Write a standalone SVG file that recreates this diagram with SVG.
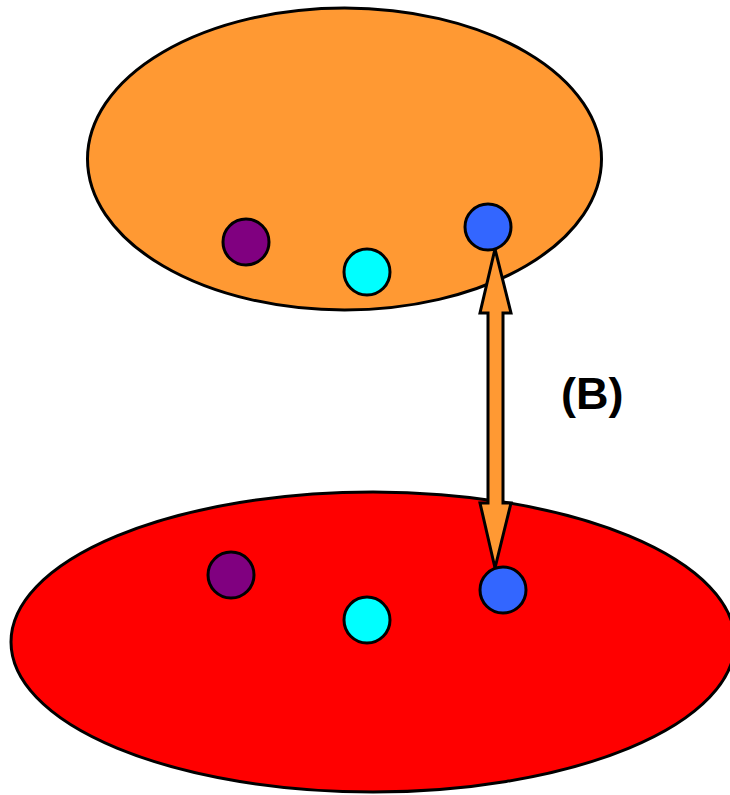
<svg xmlns="http://www.w3.org/2000/svg" width="730" height="795" viewBox="0 0 730 795">
<style>
.o{stroke:#000;stroke-width:3}
.dot{stroke:#000;stroke-width:3}
.lbl{font-family:"Liberation Sans",Arial,sans-serif;font-weight:bold;font-size:45px;fill:#000}
</style>
<rect width="730" height="795" fill="#fff"/>
<g id="top-set">
<ellipse cx="344.5" cy="159" rx="257" ry="151" fill="#ff9933" class="o"/>
</g>
<g id="bottom-set">
<ellipse cx="373" cy="642" rx="362" ry="150" fill="#ff0000" class="o"/>
</g>
<g id="top-purple"><circle cx="246" cy="242" r="23" fill="#800080" class="dot"/></g>
<g id="top-cyan"><circle cx="367" cy="272" r="23" fill="#00ffff" class="dot"/></g>
<g id="top-blue"><circle cx="488" cy="227" r="23" fill="#3366ff" class="dot"/></g>
<g id="bottom-purple"><circle cx="231" cy="575" r="23" fill="#800080" class="dot"/></g>
<g id="bottom-cyan"><circle cx="367" cy="620" r="23" fill="#00ffff" class="dot"/></g>
<g id="bottom-blue"><circle cx="503" cy="590" r="23" fill="#3366ff" class="dot"/></g>
<g id="connectors">
<polygon points="495,249 511,313 503,313 503,503 511,503 495,568 480,503 488,503 488,313 480,313" fill="#ff9933" stroke="#000" stroke-width="3" stroke-linejoin="miter"/>
</g>
<g id="label">
<text x="561" y="409" class="lbl">(B)</text>
</g>
</svg>
